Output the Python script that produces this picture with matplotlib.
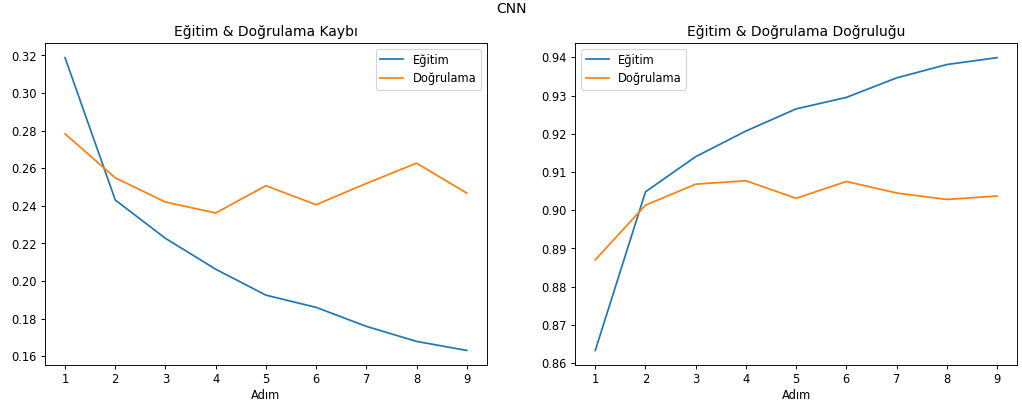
import matplotlib.pyplot as plt

adim = [1, 2, 3, 4, 5, 6, 7, 8, 9]

egitim_kayip = [0.3188, 0.2431, 0.2227, 0.2063, 0.1925, 0.1860, 0.1759, 0.1679, 0.1631]
dogrulama_kayip = [0.2783, 0.2549, 0.2420, 0.2362, 0.2507, 0.2406, 0.2519, 0.2627, 0.2468]

egitim_dogruluk = [0.8633, 0.9048, 0.9140, 0.9207, 0.9265, 0.9295, 0.9346, 0.9381, 0.9399]
dogrulama_dogruluk = [0.8870, 0.9013, 0.9068, 0.9077, 0.9031, 0.9075, 0.9045, 0.9028, 0.9037]

# buyuk figur, dusuk dpi -> referanstaki kucuk yazilar
fig, (ax1, ax2) = plt.subplots(1, 2, figsize=(12.315, 4.905), dpi=83)
fig.suptitle('CNN', y=0.995)

ax1.plot(adim, egitim_kayip, label='Eğitim')
ax1.plot(adim, dogrulama_kayip, label='Doğrulama')
ax1.set_title('Eğitim & Doğrulama Kaybı')
ax1.set_xlabel('Adım', labelpad=2)
ax1.set_xticks(adim)
ax1.legend()

ax2.plot(adim, egitim_dogruluk, label='Eğitim')
ax2.plot(adim, dogrulama_dogruluk, label='Doğrulama')
ax2.set_title('Eğitim & Doğrulama Doğruluğu')
ax2.set_xlabel('Adım', labelpad=2)
ax2.set_xticks(adim)
ax2.legend()

plt.subplots_adjust(left=0.044, right=0.995, top=0.894, bottom=0.103, wspace=0.2)
plt.savefig('out.png')
